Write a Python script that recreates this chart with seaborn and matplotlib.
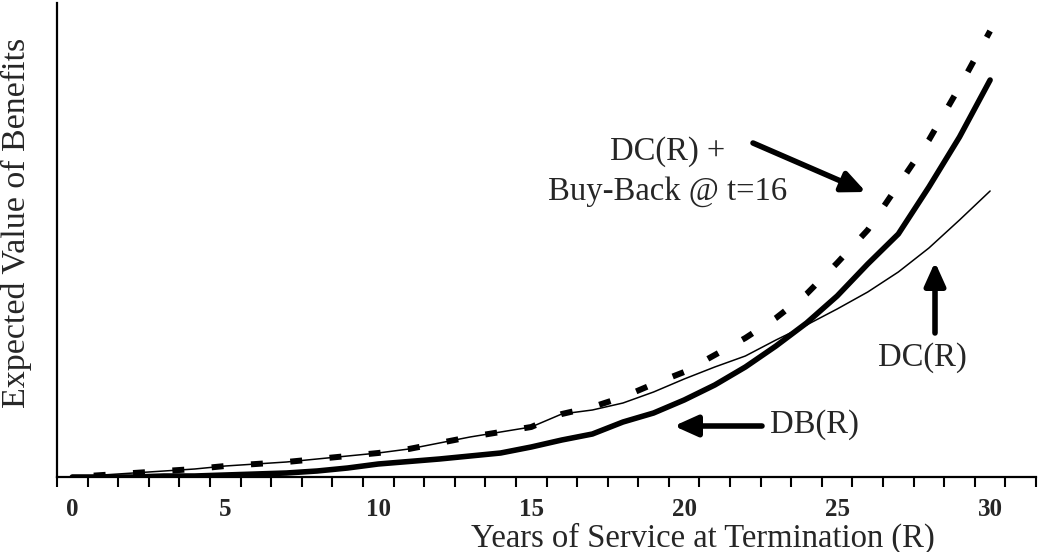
import numpy as np
import pandas as pd
import matplotlib
matplotlib.use("Agg")
import matplotlib.pyplot as plt
import seaborn as sns

# ---- data (arbitrary units) ----
years = list(range(0, 31))
db_values = [0, 0, 0, 1, 1, 2, 3, 4, 6, 9, 13, 15.5, 18, 21, 24, 30, 37, 43, 55, 64,
             77, 92, 110, 131, 154, 181, 213, 243, 290, 340, 397]
dc_values = [0, 2, 4, 6, 8, 11, 13, 15, 18, 21, 24, 28, 34, 40, 45, 50, 63, 67, 74, 85,
             98, 110, 121, 137, 152, 168, 185, 205, 229, 257, 286]
dc_buyback_values = [0, 2, 4, 6, 8, 11, 13, 15, 18, 21, 24, 28, 34, 40, 45, 50, 63, 70, 80, 93,
                     105, 122, 139, 159, 183, 214, 247, 292, 337, 390, 446]
xtick_values = [0, 5, 10, 15, 20, 25, 30]
xtick_labels = ["0", "5", "10", "15", "20", "25", "30"]

df = pd.DataFrame({"R": years, "DB": db_values, "DC": dc_values, "DCBB": dc_buyback_values})

sns.set_style("white")
plt.rcParams["font.family"] = ["Liberation Serif", "DejaVu Serif"]

W, H = 1039, 552
fig = plt.figure(figsize=(W / 100, H / 100), dpi=100)
ax = fig.add_axes([57 / W, 1 - 477 / H, (1036 - 57) / W, (477 - 3) / H])

sns.lineplot(data=df, x="R", y="DC", ax=ax, color="black", linewidth=1.1)
sns.lineplot(data=df, x="R", y="DB", ax=ax, color="black", linewidth=4.0,
             solid_joinstyle="round", solid_capstyle="round")
sns.lineplot(data=df, x="R", y="DCBB", ax=ax, color="black", linewidth=4.3)
dash_line = ax.lines[-1]

ax.set_xlim(-0.5, 31.5)
ax.set_ylim(0, 474)
ax.set_xlabel("")
ax.set_ylabel("")
ax.set_yticks([])
ax.set_xticks(xtick_values)
ax.set_xticklabels(xtick_labels, fontsize=18, fontweight="bold")
ax.set_xticks(np.arange(-0.5, 32, 1), minor=True)
ax.tick_params(axis="x", which="major", length=0, pad=15)
ax.tick_params(axis="x", which="minor", length=7, width=1.5, direction="out", color="black", bottom=True)
for s in ["top", "right"]:
    ax.spines[s].set_visible(False)
for s in ["left", "bottom"]:
    ax.spines[s].set_color("black")
    ax.spines[s].set_linewidth(1.6)

# dash pattern, phased so that the line ends on a dash
fig.canvas.draw()
xy = ax.transData.transform(np.column_stack([dash_line.get_xdata(), dash_line.get_ydata()]))
L_px = np.sum(np.hypot(np.diff(xy[:, 0]), np.diff(xy[:, 1])))
lw = 4.3
L_u = L_px * 72 / 100 / lw
dash_on, dash_off = 2.0, 4.6
period = dash_on + dash_off
offset = (1.2 - L_u) % period
dash_line.set_linestyle((offset, (dash_on, dash_off)))
dash_line.set_dash_capstyle("butt")

def fp(x, y):
    return (x / W, 1 - y / H)

fig.text(*fp(703, 538), "Years of Service at Termination (R)", ha="center", va="center", fontsize=23.5)
fig.text(*fp(16, 223), "Expected Value of Benefits", ha="center", va="center", rotation=90, fontsize=24.5)

fig.text(*fp(668, 172), "DC(R) +\nBuy-Back @ t=16", ha="center", va="center",
         multialignment="center", fontsize=23.5, linespacing=1.4)
fig.text(*fp(922, 358), "DC(R)", ha="center", va="center", fontsize=23.5)
fig.text(*fp(814, 425), "DB(R)", ha="center", va="center", fontsize=23.5)

arrow_kw = dict(arrowstyle="-|>,head_length=1.0,head_width=0.45", lw=4, color="black",
                shrinkA=0, shrinkB=0, mutation_scale=14)
for (tx, ty), (hx, hy) in [((753, 143), (866, 192)), ((935, 333), (935, 262)), ((762, 426), (674, 426))]:
    ax.annotate("", xy=fp(hx, hy), xycoords="figure fraction",
                xytext=fp(tx, ty), textcoords="figure fraction", arrowprops=arrow_kw)

fig.savefig("out.png", dpi=100)
